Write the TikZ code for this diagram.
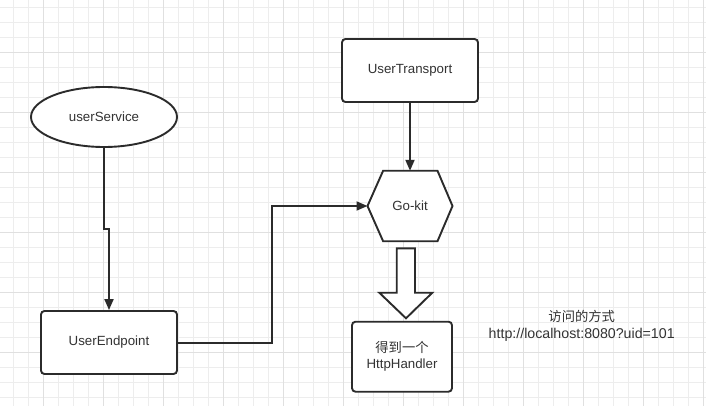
\documentclass[tikz,border=0pt]{standalone}
\usepackage{fontspec}
\setmainfont{Liberation Sans}
\newfontfamily\cjk{Noto Sans CJK SC}
\usetikzlibrary{arrows.meta,shapes.geometric}
\definecolor{ink}{HTML}{2B2B2B}
\definecolor{txt}{HTML}{333333}
\definecolor{gridminor}{HTML}{EDEDED}
\definecolor{gridmajor}{HTML}{E0E0E0}
\begin{document}
\begin{tikzpicture}[x=1pt,y=-1pt,
  every node/.style={font=\fontsize{13.3}{16}\selectfont, text=txt, inner sep=0pt, align=center},
  box/.style={draw=ink, line width=1.9pt, rounded corners=3.5pt, fill=white, minimum width=136pt, minimum height=63pt},
  conn/.style={draw=ink, line width=1.9pt, -{Triangle[length=11pt,width=9pt]}}]
\useasboundingbox (0,0) rectangle (706,406);
\fill[white] (0,0) rectangle (706,406);
% grid
\foreach \i in {0,...,46} {\draw[gridminor, line width=1pt] ({13.3+15*\i},0) -- ({13.3+15*\i},406);}
\foreach \j in {0,...,26} {\draw[gridminor, line width=1pt] (0,{7.3+15*\j}) -- (706,{7.3+15*\j});}
\foreach \i in {0,...,11} {\draw[gridmajor, line width=1pt] ({43.3+60*\i},0) -- ({43.3+60*\i},406);}
\foreach \j in {0,...,5} {\draw[gridmajor, line width=1pt] (0,{52.3+60*\j}) -- (706,{52.3+60*\j});}

% nodes
\node[draw=ink, line width=1.9pt, ellipse, fill=white, minimum width=146pt, minimum height=60pt] (svc) at (104,117) {userService};
\node[box] (ep) at (109,342.5) {UserEndpoint};
\node[box] (tr) at (410,70.5) {UserTransport};
\node[minimum width=84.6pt, minimum height=70pt] (gk) at (410,206) {};
\draw[ink, line width=1.9pt, fill=white, line join=miter]
  (gk.west) -- ([xshift=15.6pt]gk.north west) -- ([xshift=-15pt]gk.north east) -- (gk.east)
  -- ([xshift=-15pt]gk.south east) -- ([xshift=15.6pt]gk.south west) -- cycle;
\node at (gk.center) {Go-kit};
\node[box, minimum width=100pt, minimum height=70pt] (hh) at (402,356.7) {{\cjk 得到一个}\\HttpHandler};
\node[font=\fontsize{14.2}{16.5}\selectfont] (note) at (581.7,326) {{\cjk\fontsize{13.3}{16.5}\selectfont 访问的方式}\\http://localhost:8080?uid=101};

% block arrow
\draw[ink, line width=1.9pt, fill=white, line join=miter]
  (396.7,248.3) -- (415,248.3) -- (415,292.7) -- (432.3,292.7) -- (406,318.3)
  -- (379.3,292.7) -- (396.7,292.7) -- cycle;

% connectors
\coordinate (j1) at (104,229.3);
\coordinate (j2) at (109,229.3);
\draw[conn] (svc.south) -- (j1) -- (j2) -- (ep.north -| j2);
\coordinate (k1) at (272.3,342.7);
\draw[conn] (ep.east |- k1) -- (k1) |- (gk.west);
\draw[conn] (tr.south) -- (gk.north);
\end{tikzpicture}
\end{document}
